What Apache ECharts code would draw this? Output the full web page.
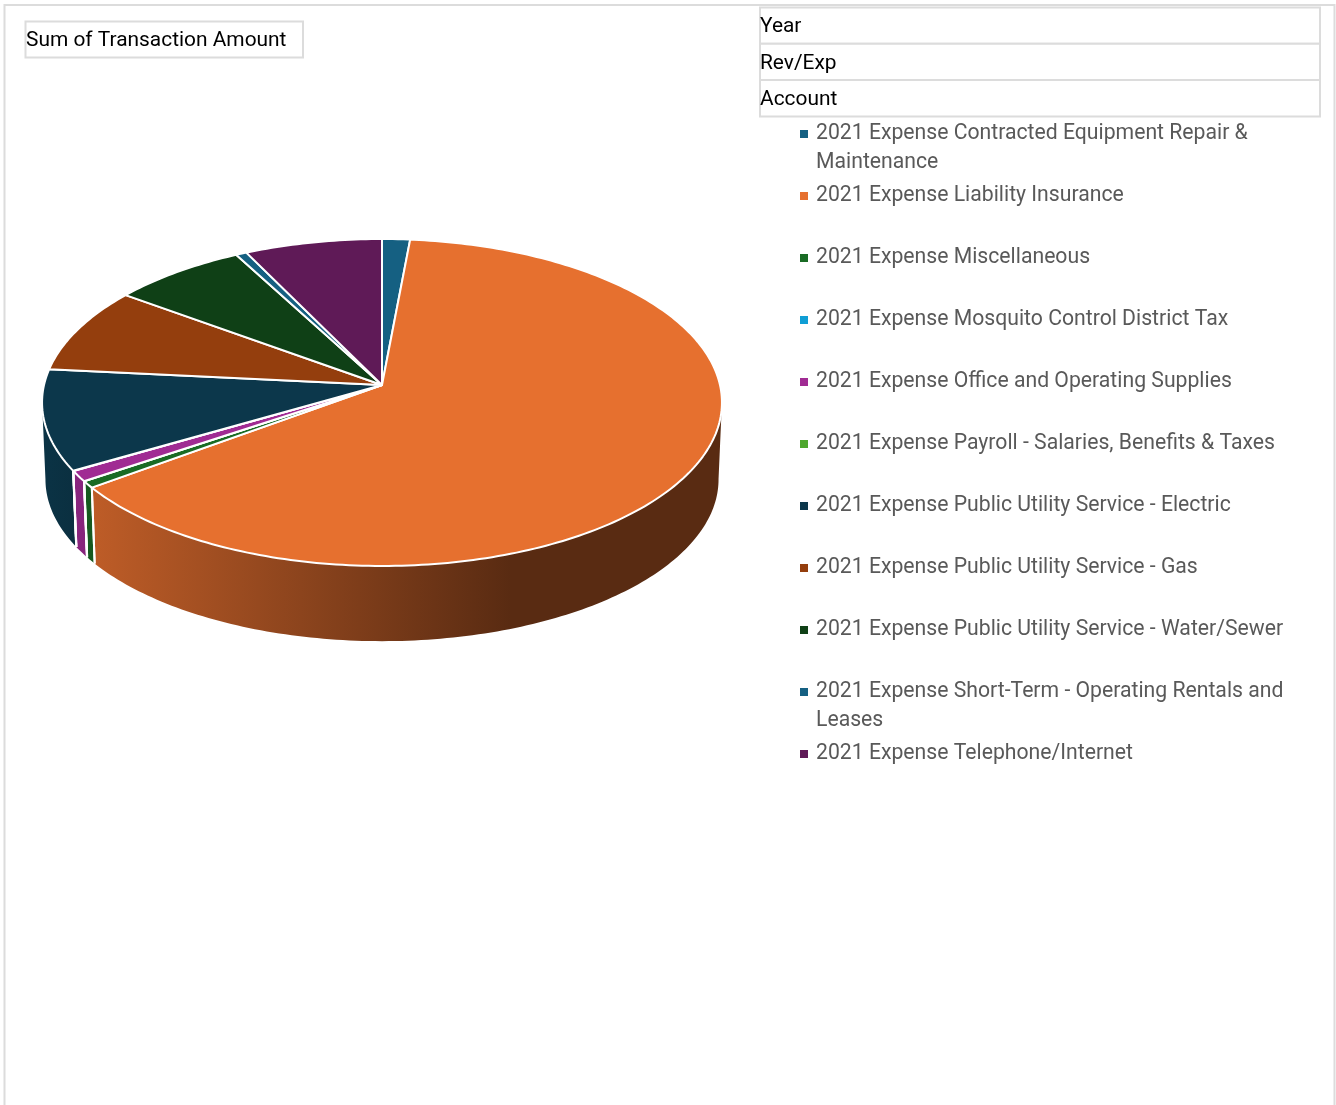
<!DOCTYPE html>
<html>
<head>
<meta charset="utf-8">
<style>html,body{margin:0;padding:0;background:#fff}#chart{width:1336px;height:1105px}</style>
<script src="https://cdn.jsdelivr.net/npm/echarts@6/dist/echarts.min.js"></script>
</head>
<body>
<div id="chart"></div>
<script>
// Account names, in legend order
const accounts = [
  '2021 Expense Contracted Equipment Repair & Maintenance',
  '2021 Expense Liability Insurance',
  '2021 Expense Miscellaneous',
  '2021 Expense Mosquito Control District Tax',
  '2021 Expense Office and Operating Supplies',
  '2021 Expense Payroll - Salaries, Benefits & Taxes',
  '2021 Expense Public Utility Service - Electric',
  '2021 Expense Public Utility Service - Gas',
  '2021 Expense Public Utility Service - Water/Sewer',
  '2021 Expense Short-Term - Operating Rentals and Leases',
  '2021 Expense Telephone/Internet'
];
// Share of the transaction total per account
const amounts = [1.47, 63.4, 0.67, 0.02, 1.05, 0.02, 9.95, 8.5, 7.1, 0.58, 7.25];
const sliceColors = ['#156082', '#E6702F', '#196B24', '#0F9ED5', '#A02B93', '#4EA72E',
                     '#0C374B', '#943E0D', '#0F4016', '#156082', '#5F1A57'];
const fieldLabels = ['Year', 'Rev/Exp', 'Account'];
const valueLabel = 'Sum of Transaction Amount';
// Legend names that wrap onto a second line: full name -> text of that line
const wrappedNames = {
  '2021 Expense Contracted Equipment Repair & Maintenance': 'Maintenance',
  '2021 Expense Short-Term - Operating Rentals and Leases': 'Leases'
};

const FONT = 'Roboto';
const BUTTON_SIZE = 20.9;
const LEGEND_SIZE = 21.2;
const BORDER = '#DCDCDC';
const total = amounts.reduce((a, b) => a + b, 0);

// Disc projection: a circle seen from above with a little perspective
const PIE = { cx: 382, cy: 385, r: 338, b: 161.6, k: 0.107, depth: 77, bottomScale: 0.99 };
function project(deg, bottom) {
  const t = deg * Math.PI / 180;
  const u = Math.sin(t), v = -Math.cos(t);
  const w = 1 - PIE.k * v;
  const s = bottom ? PIE.bottomScale : 1;
  return [
    PIE.cx + s * PIE.r * u / w,
    PIE.cy + (bottom ? PIE.depth : 0) + s * PIE.b * v / w
  ];
}
function arcAngles(a0, a1) {
  const out = [a0];
  for (let a = Math.ceil(a0); a < a1; a++) if (a > a0) out.push(a);
  out.push(a1);
  return out;
}
// Side walls darken from left to right across the pie
function wallFill(hex) {
  const c = [1, 3, 5].map(i => parseInt(hex.substr(i, 2), 16));
  const mix = f => 'rgb(' + c.map(x => Math.round(x * f)).join(',') + ')';
  return {
    type: 'linear', x: 43, y: 0, x2: 721, y2: 0, global: true,
    colorStops: [
      { offset: 0, color: mix(0.92) },
      { offset: 0.078, color: mix(0.82) },
      { offset: 0.38, color: mix(0.61) },
      { offset: 0.69, color: mix(0.386) },
      { offset: 1, color: mix(0.386) }
    ]
  };
}

let running = 0;
const series = accounts.map((name, i) => {
  const start = running / total * 360;
  running += amounts[i];
  const color = sliceColors[i];
  return {
    type: 'custom',
    name,
    coordinateSystem: 'none',
    silent: true,
    animation: false,
    itemStyle: { color },
    data: [[amounts[i]]],
    renderItem(params, api) {
      const end = start + api.value(0) / total * 360;
      const angles = arcAngles(start, end);
      const rim = angles.map(a => project(a, false));
      const children = [];
      // Only the arc between the two silhouette points faces the viewer
      const front = angles.filter(a => -Math.cos(a * Math.PI / 180) >= 0.1);
      if (front.length > 1) {
        children.push({
          type: 'polygon', z2: 1, silent: true,
          shape: { points: front.map(a => project(a, false)).concat(front.slice().reverse().map(a => project(a, true))) },
          style: { fill: wallFill(color) }
        });
      }
      [start, end].forEach(a => {
        if (-Math.cos(a * Math.PI / 180) > 0.1) {
          const p = project(a, false), q = project(a, true);
          children.push({
            type: 'line', z2: 2, silent: true,
            shape: { x1: p[0], y1: p[1], x2: q[0], y2: q[1] },
            style: { stroke: '#fff', lineWidth: 2 }
          });
        }
      });
      children.push({
        type: 'polygon', z2: 3, silent: true,
        shape: { points: [[PIE.cx, PIE.cy]].concat(rim) },
        style: { fill: color, stroke: '#fff', lineWidth: 2, lineJoin: 'round' }
      });
      return { type: 'group', children };
    }
  };
});

// Frame, field buttons and the continuation lines of wrapped legend entries
const elements = [
  { type: 'rect', z: -1, silent: true, shape: { x: 4.5, y: 5, width: 1330, height: 1200 },
    style: { fill: '#fff', stroke: BORDER, lineWidth: 2 } },
  { type: 'rect', silent: true, shape: { x: 25.5, y: 21.5, width: 277.5, height: 36 },
    style: { fill: '#fff', stroke: BORDER, lineWidth: 2 } },
  { type: 'text', silent: true, style: { x: 26, y: 41, text: valueLabel, font: BUTTON_SIZE + 'px ' + FONT, fill: '#000', textVerticalAlign: 'middle' } }
];
fieldLabels.forEach((label, i) => {
  const top = 7.5 + i * 36.3;
  elements.push({ type: 'rect', silent: true, shape: { x: 760, y: top, width: 560, height: 36.3 },
    style: { fill: '#fff', stroke: BORDER, lineWidth: 2 } });
  elements.push({ type: 'text', silent: true, style: { x: 760, y: top + 19.5, text: label, font: BUTTON_SIZE + 'px ' + FONT, fill: '#000', textVerticalAlign: 'middle' } });
});
accounts.forEach((name, i) => {
  if (wrappedNames[name]) {
    elements.push({ type: 'text', silent: true, style: { x: 816, y: 132 + i * 62 + 30.5, text: wrappedNames[name], font: LEGEND_SIZE + 'px ' + FONT, fill: '#595959', textVerticalAlign: 'middle' } });
  }
});

const chart = echarts.init(document.getElementById('chart'), null, { renderer: 'canvas' });
chart.setOption({
  animation: false,
  backgroundColor: '#fff',
  graphic: { elements },
  legend: {
    orient: 'vertical',
    left: 795,
    top: 115,
    padding: 5,
    selectedMode: false,
    itemWidth: 8,
    itemHeight: 8,
    itemGap: 34,
    icon: 'rect',
    data: accounts,
    formatter: name => wrappedNames[name] ? name.slice(0, -wrappedNames[name].length).trim() : name,
    textStyle: { fontFamily: FONT, fontSize: LEGEND_SIZE, color: '#595959', lineHeight: 26, padding: [2, 0, 0, 3] }
  },
  series
});
</script>
</body>
</html>
